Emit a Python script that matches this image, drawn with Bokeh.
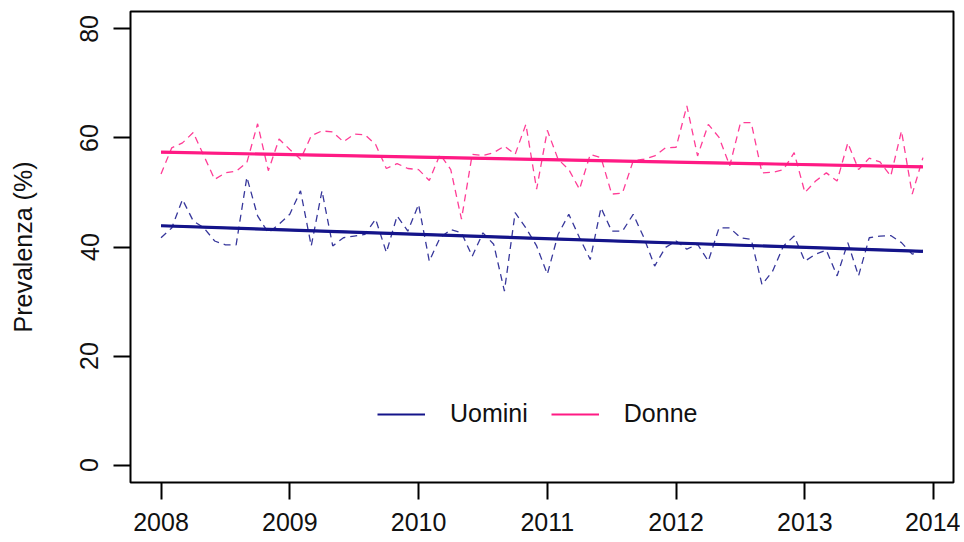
import numpy as np
from bokeh.plotting import figure
from bokeh.models import FixedTicker, Legend, LegendItem, Range1d
from bokeh.embed import file_html
from bokeh.resources import INLINE

# Monthly observations 2008-01 .. 2013-12
months = list(range(72))
uomini = [41.7, 43.5, 48.7, 44.8, 43.5, 41.1, 40.4, 40.4, 52.8, 45.7, 42.6, 44.2,
          46.0, 50.3, 40.2, 50.3, 40.2, 41.7, 42.0, 42.3, 45.1, 39.0, 45.7, 42.9,
          47.8, 37.4, 41.7, 43.2, 42.6, 38.3, 42.6, 40.5, 31.9, 46.3, 43.5, 40.2,
          35.0, 42.3, 46.0, 41.7, 37.7, 47.2, 42.9, 42.9, 46.0, 41.7, 36.5, 39.9,
          41.1, 39.6, 40.5, 37.4, 43.5, 43.5, 41.7, 41.4, 33.1, 35.6, 40.2, 42.0,
          37.4, 38.7, 39.4, 34.7, 40.8, 34.7, 41.7, 42.0, 42.1, 40.8, 38.7, 39.4]
donne = [53.4, 58.2, 59.1, 61.0, 56.7, 52.4, 53.6, 53.9, 55.5, 62.6, 54.0, 59.8,
         57.9, 56.1, 60.4, 61.3, 61.1, 59.3, 60.7, 60.6, 58.8, 54.4, 55.3, 54.4,
         54.2, 52.2, 57.0, 54.2, 45.1, 57.0, 56.8, 57.3, 58.5, 57.0, 62.5, 50.6,
         61.4, 56.1, 54.2, 50.6, 57.0, 56.4, 49.7, 49.9, 55.8, 56.1, 56.7, 58.2,
         58.3, 65.9, 56.7, 62.5, 60.1, 54.9, 62.8, 62.8, 53.6, 53.7, 54.2, 57.3,
         50.0, 52.1, 53.6, 52.1, 59.1, 54.2, 56.3, 55.6, 53.0, 61.3, 49.7, 56.4]

# Trend lines (start, end)
trend_months = [0, 71]
trend_uomini = [43.9, 39.2]
trend_donne = [57.4, 54.7]

x_ticks = [2008, 2009, 2010, 2011, 2012, 2013, 2014]
y_ticks = [0, 20, 40, 60, 80]
labels = ["Uomini", "Donne"]

col_u = "#14148a"
col_d = "#ff1a84"
FONT = "Liberation Sans"

t = [2008 + m / 12 for m in months]
tt = [2008 + m / 12 for m in trend_months]

p = figure(width=960, height=542, output_backend="svg", toolbar_location=None,
           x_range=Range1d(2007.763, 2014.154), y_range=Range1d(-3.2, 83.2),
           min_border_left=130, min_border_right=7, min_border_top=11, min_border_bottom=60)

p.grid.visible = False
p.outline_line_color = "black"
p.outline_line_width = 2
p.background_fill_color = "white"
p.border_fill_color = "white"

p.line(t, uomini, line_color=col_u, line_width=1.3, line_dash="7 5", line_alpha=0.85)
p.line(t, donne, line_color=col_d, line_width=1.3, line_dash="7 5", line_alpha=0.85)
# thin copies (hidden under the trend lines) used as legend glyphs
lg_u = p.line(tt, trend_uomini, line_color=col_u, line_width=2)
lg_d = p.line(tt, trend_donne, line_color=col_d, line_width=2)
p.line(tt, trend_uomini, line_color=col_u, line_width=3.2)
p.line(tt, trend_donne, line_color=col_d, line_width=3.2)

legend = Legend(items=[LegendItem(label=labels[0], renderers=[lg_u]),
                       LegendItem(label=labels[1], renderers=[lg_d])],
                orientation="horizontal", location=(247, 54),
                glyph_width=48, glyph_height=20, label_standoff=25, spacing=23,
                padding=0, margin=0, border_line_color=None,
                background_fill_alpha=0,
                label_text_font=FONT, label_text_font_size="25px", label_text_color="#111111")
p.add_layout(legend, "center")

for ax in (p.xaxis[0], p.yaxis[0]):
    ax.axis_line_color = None
    ax.major_tick_line_color = "black"
    ax.major_tick_line_width = 2
    ax.major_tick_out = 17
    ax.major_tick_in = 0
    ax.minor_tick_line_color = None
    ax.major_label_text_font = FONT
    ax.major_label_text_font_size = "25px"
    ax.major_label_text_color = "#111111"

p.xaxis.ticker = FixedTicker(ticks=x_ticks)
p.xaxis.major_label_standoff = 13
p.yaxis.ticker = FixedTicker(ticks=y_ticks)
p.yaxis.major_label_orientation = "vertical"
p.yaxis.major_label_standoff = 15
p.yaxis.axis_label = "Prevalenza (%)"
p.yaxis.axis_label_text_font = FONT
p.yaxis.axis_label_text_font_size = "25px"
p.yaxis.axis_label_text_font_style = "normal"
p.yaxis.axis_label_text_color = "#111111"
p.yaxis.axis_label_standoff = 41

open("out.html", "w").write(file_html(p, INLINE))
